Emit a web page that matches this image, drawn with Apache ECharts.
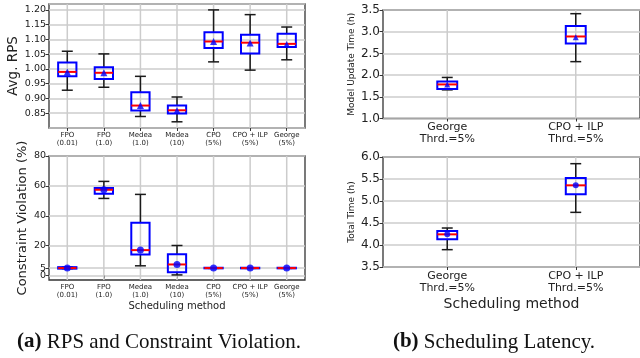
<!DOCTYPE html>
<html><head><meta charset="utf-8">
<script src="https://cdn.jsdelivr.net/npm/echarts@6/dist/echarts.min.js"></script>
<style>html,body{margin:0;padding:0;background:#fff}#c{width:640px;height:358px}</style>
</head><body><div id="c"></div>
<script>
// ---- Data (a) RPS ----
const leftCategories = ['FPO\n(0.01)','FPO\n(1.0)','Medea\n(1.0)','Medea\n(10)','CPO\n(5%)','CPO + ILP\n(5%)','George\n(5%)'];
const rpsLow    = [0.928, 0.938, 0.839, 0.821, 1.024, 0.996, 1.031];
const rpsQ1     = [0.975, 0.966, 0.859, 0.849, 1.071, 1.052, 1.074];
const rpsMedian = [0.990, 0.987, 0.876, 0.860, 1.093, 1.089, 1.085];
const rpsQ3     = [1.022, 1.006, 0.921, 0.876, 1.124, 1.116, 1.119];
const rpsHigh   = [1.060, 1.051, 0.975, 0.905, 1.200, 1.184, 1.142];
const rpsMean   = [0.990, 0.987, 0.876, 0.859, 1.093, 1.088, 1.083];

// ---- Data (a) Constraint violation ----
const cvLow    = [4.6, 51.6, 6.5, 0.4, 4.8, 4.8, 4.8];
const cvQ1     = [4.6, 54.7, 14.1, 2.2, 4.8, 4.8, 4.8];
const cvMedian = [5.0, 57.4, 17.0, 7.4, 5.0, 5.0, 5.0];
const cvQ3     = [5.6, 58.5, 35.3, 14.3, 5.2, 5.2, 5.2];
const cvHigh   = [5.6, 63.0, 54.3, 20.1, 5.2, 5.2, 5.2];
const cvMean   = [5.0, 57.4, 17.0, 7.4, 5.0, 5.0, 5.0];
const cvTicks  = [0, 5, 20, 40, 60, 80];
const cvMainLabels = [0, 20, 40, 60, 80];
const cvExtraLabels = [5];

// ---- Data (b) Scheduling latency ----
const rightCategories = ['George\nThrd.=5%', 'CPO + ILP\nThrd.=5%'];
const updLow    = [1.660, 2.310];
const updQ1     = [1.677, 2.730];
const updMedian = [1.785, 2.890];
const updQ3     = [1.854, 3.130];
const updHigh   = [1.946, 3.415];
const updMean   = [1.785, 2.875];

const totLow    = [3.894, 4.742];
const totQ1     = [4.129, 5.152];
const totMedian = [4.242, 5.356];
const totQ3     = [4.318, 5.523];
const totHigh   = [4.386, 5.848];
const totMean   = [4.245, 5.356];

// ---- Build ----
function rows(lo, q1, med, q3, hi){ return lo.map((v,i)=>[i, v, q1[i], med[i], q3[i], hi[i]]); }
function meanRows(m){ return m.map((v,i)=>[i, v]); }
function gridRows(n, y){ const r=[]; for(let i=0;i<n;i++) r.push([i, y]); return r; }

function boxRender(boxFrac, capFrac, lw){
  return function(params, api){
    const x = api.value(0);
    const band = api.size([1,0])[0];
    const bw = band*boxFrac, cw = band*capFrac;
    const pLo = api.coord([x, api.value(1)]);
    const pQ1 = api.coord([x, api.value(2)]);
    const pMed = api.coord([x, api.value(3)]);
    const pQ3 = api.coord([x, api.value(4)]);
    const pHi = api.coord([x, api.value(5)]);
    const cx = pLo[0];
    const black = {stroke:'#1a1a1a', lineWidth: lw};
    return {type:'group', children:[
      {type:'line', shape:{x1:cx,y1:pLo[1],x2:cx,y2:pQ1[1]}, style:black},
      {type:'line', shape:{x1:cx,y1:pQ3[1],x2:cx,y2:pHi[1]}, style:black},
      {type:'line', shape:{x1:cx-cw/2,y1:pLo[1],x2:cx+cw/2,y2:pLo[1]}, style:black},
      {type:'line', shape:{x1:cx-cw/2,y1:pHi[1],x2:cx+cw/2,y2:pHi[1]}, style:black},
      {type:'rect', shape:{x:cx-bw/2,y:pQ3[1],width:bw,height:Math.max(pQ1[1]-pQ3[1],0.5)}, style:{fill:'none', stroke:'#0000ff', lineWidth:2}},
      {type:'line', shape:{x1:cx-bw/2,y1:pMed[1],x2:cx+bw/2,y2:pMed[1]}, style:{stroke:'#ff0000', lineWidth:2}}
    ]};
  };
}
function vgridRender(params, api){
  const p = api.coord([api.value(0), api.value(1)]);
  const cs = params.coordSys;
  return {type:'line', shape:{x1:p[0],y1:cs.y,x2:p[0],y2:cs.y+cs.height}, style:{stroke:'#cccccc', lineWidth:1.5}};
}

const FONT = 'DejaVu Sans';
const frame = {show:true, borderColor:'#333', borderWidth:1.3, backgroundColor:'transparent'};

function xCat(gi, cats, fs, lh, margin, name, nameFs, nameGap){
  return {
    type:'category', gridIndex:gi, data:cats, boundaryGap:true,
    axisLine:{show:false},
    axisTick:{show:true, alignWithLabel:true, length:3, lineStyle:{color:'#333', width:1}},
    axisLabel:{interval:0, hideOverlap:false, fontFamily:FONT, fontSize:fs, lineHeight:lh, color:'#222', margin:margin},
    splitLine:{show:false},
    name:name||'', nameLocation:'middle', nameGap:nameGap||0,
    nameTextStyle:{fontFamily:FONT, fontSize:nameFs||10, color:'#222'}
  };
}
function yVal(gi, opts){
  return Object.assign({
    type:'value', gridIndex:gi, position:'left',
    axisLine:{show:false},
    axisTick:{show:true, length:3.5, lineStyle:{color:'#333', width:1}},
    splitLine:{show:true, lineStyle:{color:'#cccccc', width:1.5}},
    nameLocation:'middle', nameRotate:90
  }, opts);
}

const option = {
  animation:false,
  backgroundColor:'#fff',
  grid:[
    Object.assign({left:49, top:4, width:256, height:124}, frame),
    Object.assign({left:49, top:156, width:256, height:124}, frame),
    Object.assign({left:383, top:10, width:259, height:108.5}, frame),
    Object.assign({left:383, top:157, width:259, height:110}, frame)
  ],
  xAxis:[
    xCat(0, leftCategories, 7, 8, 3),
    xCat(1, leftCategories, 7, 8, 3, 'Scheduling method', 10, 21),
    xCat(2, rightCategories, 11, 12, 3),
    xCat(3, rightCategories, 11, 12, 3, 'Scheduling method', 14, 30)
  ],
  yAxis:[
    yVal(0, {min:0.80, max:1.22, interval:0.05,
      axisLabel:{fontFamily:FONT, fontSize:9.5, color:'#222', margin:3, showMinLabel:false, showMaxLabel:false, formatter:v=>v.toFixed(2)},
      name:'Avg. RPS', nameGap:29, nameTextStyle:{fontFamily:FONT, fontSize:13.5, color:'#222'}}),
    yVal(1, {min:-3, max:80,
      axisTick:{show:true, length:3.5, customValues:cvTicks, lineStyle:{color:'#333', width:1}},
      axisLabel:{fontFamily:FONT, fontSize:9.5, color:'#222', margin:3, customValues:cvMainLabels, hideOverlap:false},
      name:'Constraint Violation (%)', nameGap:20, nameTextStyle:{fontFamily:FONT, fontSize:13, color:'#222'}}),
    yVal(2, {min:1.0, max:3.5, interval:0.5,
      axisLabel:{fontFamily:FONT, fontSize:12, color:'#222', margin:3, formatter:v=>v.toFixed(1)},
      name:'Model Update Time (h)', nameGap:27, nameTextStyle:{fontFamily:FONT, fontSize:9, color:'#222'}}),
    yVal(3, {min:3.5, max:6.0, interval:0.5,
      axisLabel:{fontFamily:FONT, fontSize:12, color:'#222', margin:3, formatter:v=>v.toFixed(1)},
      name:'Total Time (h)', nameGap:27, nameTextStyle:{fontFamily:FONT, fontSize:9, color:'#222'}}),
    yVal(1, {min:-3, max:80,
      axisTick:{show:false, customValues:cvExtraLabels},
      splitLine:{show:false},
      axisLabel:{fontFamily:FONT, fontSize:9.5, color:'#222', margin:3, customValues:cvExtraLabels, hideOverlap:false}})
  ],
  series:[
    {type:'custom', xAxisIndex:0, yAxisIndex:0, z:1, silent:true, renderItem:vgridRender, data:gridRows(7, 0.85), encode:{x:0,y:1}},
    {type:'custom', xAxisIndex:1, yAxisIndex:1, z:1, silent:true, renderItem:vgridRender, data:gridRows(7, 0), encode:{x:0,y:1}},
    {type:'custom', xAxisIndex:2, yAxisIndex:2, z:1, silent:true, renderItem:vgridRender, data:gridRows(2, 1.0), encode:{x:0,y:1}},
    {type:'custom', xAxisIndex:3, yAxisIndex:3, z:1, silent:true, renderItem:vgridRender, data:gridRows(2, 3.5), encode:{x:0,y:1}},

    {type:'custom', xAxisIndex:0, yAxisIndex:0, z:3, renderItem:boxRender(0.5, 0.3, 1.5), data:rows(rpsLow,rpsQ1,rpsMedian,rpsQ3,rpsHigh), encode:{x:0,y:[1,2,3,4,5]}},
    {type:'custom', xAxisIndex:1, yAxisIndex:1, z:3, renderItem:boxRender(0.5, 0.3, 1.5), data:rows(cvLow,cvQ1,cvMedian,cvQ3,cvHigh), encode:{x:0,y:[1,2,3,4,5]}},
    {type:'custom', xAxisIndex:2, yAxisIndex:2, z:3, renderItem:boxRender(0.155, 0.085, 1.5), data:rows(updLow,updQ1,updMedian,updQ3,updHigh), encode:{x:0,y:[1,2,3,4,5]}},
    {type:'custom', xAxisIndex:3, yAxisIndex:3, z:3, renderItem:boxRender(0.155, 0.085, 1.5), data:rows(totLow,totQ1,totMedian,totQ3,totHigh), encode:{x:0,y:[1,2,3,4,5]}},

    {type:'scatter', xAxisIndex:0, yAxisIndex:0, z:5, symbol:'triangle', symbolSize:7, itemStyle:{color:'#0000ff'}, data:meanRows(rpsMean)},
    {type:'scatter', xAxisIndex:1, yAxisIndex:1, z:5, symbol:'circle', symbolSize:7, itemStyle:{color:'#0000ff'}, data:meanRows(cvMean)},
    {type:'scatter', xAxisIndex:2, yAxisIndex:2, z:5, symbol:'triangle', symbolSize:6, itemStyle:{color:'#0000ff'}, data:meanRows(updMean)},
    {type:'scatter', xAxisIndex:3, yAxisIndex:3, z:5, symbol:'circle', symbolSize:6, itemStyle:{color:'#0000ff'}, data:meanRows(totMean)}
  ],
  graphic:[
    {type:'text', x:159, y:342, style:{
      text:'{b|(a)} RPS and Constraint Violation.',
      rich:{b:{fontWeight:'bold', fontFamily:'Liberation Serif', fontSize:21, fill:'#111'}},
      fontFamily:'Liberation Serif', fontSize:21, fill:'#111', align:'center', verticalAlign:'middle'}},
    {type:'text', x:494, y:342, style:{
      text:'{b|(b)} Scheduling Latency.',
      rich:{b:{fontWeight:'bold', fontFamily:'Liberation Serif', fontSize:21, fill:'#111'}},
      fontFamily:'Liberation Serif', fontSize:21, fill:'#111', align:'center', verticalAlign:'middle'}}
  ]
};
const chart = echarts.init(document.getElementById('c'), null, {renderer:'canvas'});
chart.setOption(option);
</script>
</body></html>
